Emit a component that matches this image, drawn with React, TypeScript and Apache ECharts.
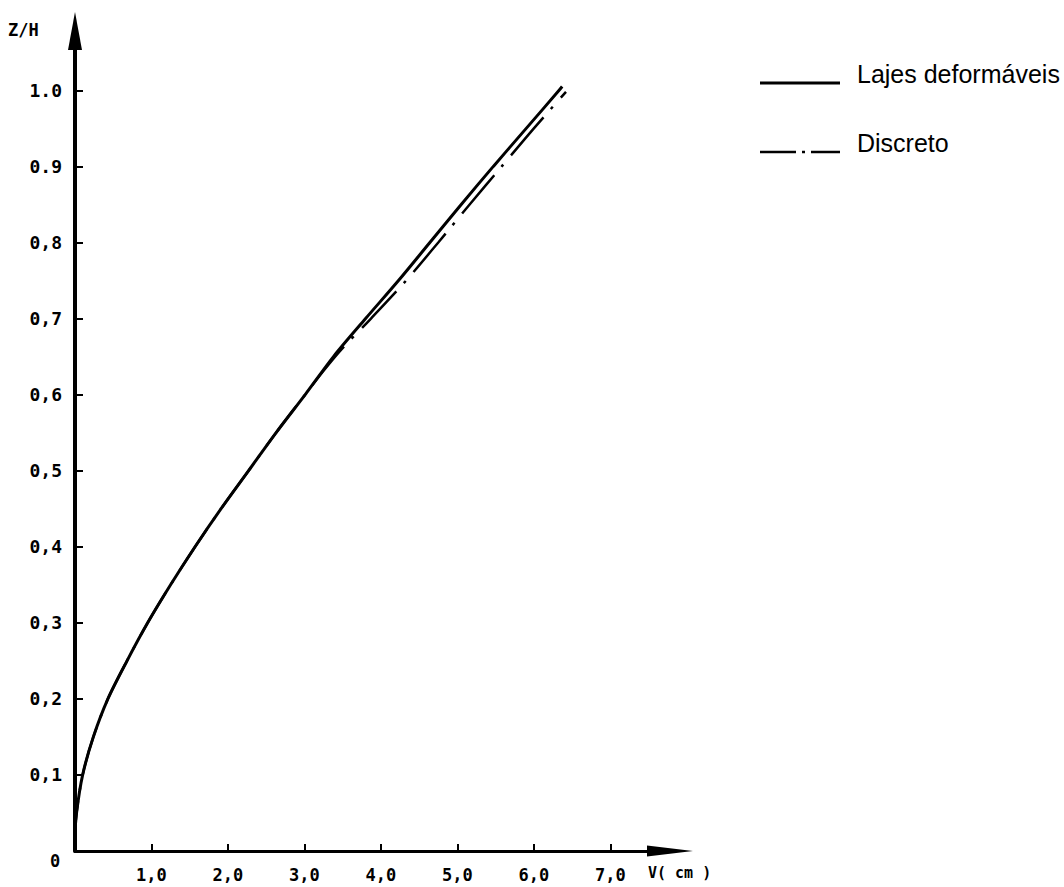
import React, { useEffect, useRef } from "react";
import * as echarts from "echarts";

// Z/H levels (shared vertical coordinate)
const zLevels = [0, 0.02, 0.05, 0.1, 0.15, 0.2, 0.25, 0.3, 0.35, 0.4, 0.45, 0.5, 0.55, 0.6, 0.65, 0.7, 0.75, 0.8, 0.85, 0.9, 0.95, 1.0, 1.005];
// Lajes deformáveis: horizontal displacement V (cm)
const lajesV = [0, 0.0, 0.02, 0.1, 0.24, 0.43, 0.68, 0.95, 1.25, 1.57, 1.91, 2.27, 2.63, 3.01, 3.38, 3.8, 4.23, 4.64, 5.05, 5.47, 5.9, 6.33, 6.37];
// Discreto
const discretoZ = [0, 0.02, 0.05, 0.1, 0.15, 0.2, 0.25, 0.3, 0.35, 0.4, 0.45, 0.5, 0.55, 0.6, 0.63, 0.66, 0.7, 0.75, 0.8, 0.85, 0.9, 0.95, 0.998];
const discretoV = [0, 0.0, 0.02, 0.1, 0.24, 0.43, 0.68, 0.95, 1.25, 1.57, 1.91, 2.27, 2.63, 3.01, 3.24, 3.49, 3.87, 4.33, 4.75, 5.16, 5.58, 6.0, 6.42];

const xTicks = [1, 2, 3, 4, 5, 6, 7];
const xTickLabels = ["1,0", "2,0", "3,0", "4,0", "5,0", "6,0", "7,0"];
const yTicks = [0.1, 0.2, 0.3, 0.4, 0.5, 0.6, 0.7, 0.8, 0.9, 1.0];
const yTickLabels = ["0,1", "0,2", "0,3", "0,4", "0,5", "0,6", "0,7", "0,8", "0.9", "1.0"];

const seriesNames = ["Lajes deformáveis", "Discreto"];

const MONO = "'DejaVu Sans Mono', monospace";
const SANS = "'Liberation Sans', Arial, sans-serif";

export default function App() {
  const ref = useRef<HTMLDivElement>(null);

  useEffect(() => {
    if (!ref.current) return;
    const chart = echarts.init(ref.current, undefined, { renderer: "svg" });
    const lajesData = zLevels.map((z, i) => [lajesV[i], z]);
    const discretoData = discretoZ.map((z, i) => [discretoV[i], z]);

    chart.setOption({
      animation: false,
      backgroundColor: "#ffffff",
      grid: { left: 75, right: 394, top: 31, bottom: 36, containLabel: false },
      xAxis: {
        type: "value",
        min: 0,
        max: 7.78,
        splitLine: { show: false },
        axisLine: {
          show: true,
          lineStyle: { color: "#000", width: 3 },
          symbol: ["none", "triangle"],
          symbolSize: [11, 46],
        },
        axisTick: {
          show: true,
          inside: true,
          length: 7,
          lineStyle: { color: "#000", width: 2 },
          customValues: xTicks,
        },
        axisLabel: {
          show: true,
          margin: 15,
          color: "#000",
          fontFamily: MONO,
          fontWeight: "bold",
          fontSize: 17,
          customValues: xTicks,
          formatter: (v: number) => xTickLabels[Math.round(v) - 1] ?? "",
        },
      },
      yAxis: {
        type: "value",
        min: 0,
        max: 1.078,
        splitLine: { show: false },
        axisLine: {
          show: true,
          lineStyle: { color: "#000", width: 4 },
          symbol: ["none", "triangle"],
          symbolSize: [14, 38],
        },
        axisTick: {
          show: true,
          inside: true,
          length: 8,
          lineStyle: { color: "#000", width: 2 },
          customValues: yTicks,
        },
        axisLabel: {
          show: true,
          margin: 13,
          color: "#000",
          fontFamily: MONO,
          fontWeight: "bold",
          fontSize: 18,
          customValues: yTicks,
          formatter: (v: number) => yTickLabels[Math.round(v * 10) - 1] ?? "",
        },
      },
      series: [
        {
          name: seriesNames[1],
          type: "line",
          data: discretoData,
          showSymbol: false,
          smooth: 0.3,
          lineStyle: { color: "#000", width: 2.5, type: [50, 11, 3, 12] },
          z: 2,
        },
        {
          name: seriesNames[0],
          type: "line",
          data: lajesData,
          showSymbol: false,
          smooth: 0.3,
          lineStyle: { color: "#000", width: 3, type: "solid" },
          z: 3,
        },
      ],
      graphic: [
        { type: "text", left: 8, top: 21, style: { text: "Z/H", font: `bold 17px ${MONO}`, fill: "#000" } },
        { type: "text", left: 50, top: 852, style: { text: "0", font: `bold 17px ${MONO}`, fill: "#000" } },
        { type: "text", left: 648, top: 865, style: { text: "V( cm )", font: `bold 15px ${MONO}`, fill: "#000" } },
        {
          type: "line",
          shape: { x1: 760, y1: 83, x2: 840, y2: 83 },
          style: { stroke: "#000", lineWidth: 3 },
        },
        {
          type: "text",
          left: 857,
          top: 61,
          style: { text: seriesNames[0], font: `25px ${SANS}`, fill: "#000" },
        },
        {
          type: "line",
          shape: { x1: 760, y1: 152, x2: 840, y2: 152 },
          style: { stroke: "#000", lineWidth: 2.5, lineDash: [36, 6, 3, 6] },
        },
        {
          type: "text",
          left: 857,
          top: 130,
          style: { text: seriesNames[1], font: `25px ${SANS}`, fill: "#000" },
        },
      ],
    });
    return () => chart.dispose();
  }, []);

  return <div ref={ref} style={{ position: "fixed", left: 0, top: 0, width: 1064, height: 887 }} />;
}
